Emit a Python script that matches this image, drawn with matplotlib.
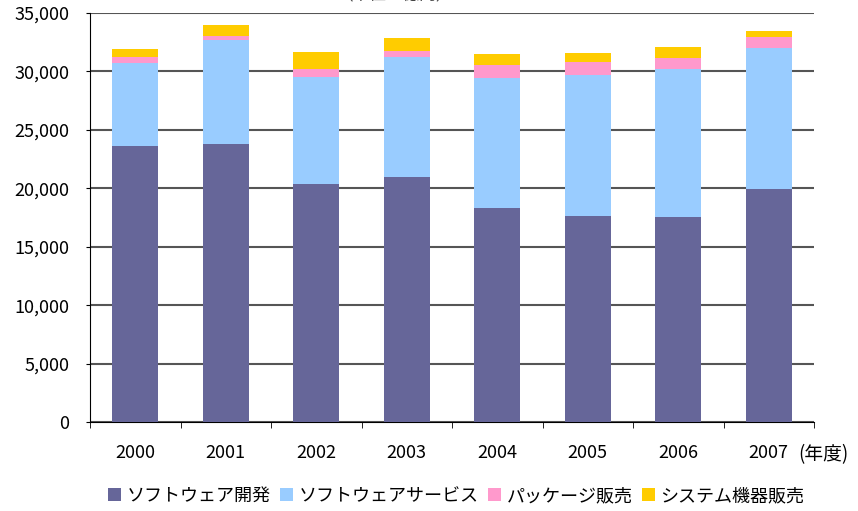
import matplotlib
matplotlib.use("Agg")
import matplotlib.pyplot as plt
from matplotlib.patches import Patch
from matplotlib.ticker import FuncFormatter, MultipleLocator
import numpy as np

plt.rcParams['font.family'] = ['Noto Sans CJK JP', 'DejaVu Sans']

# data
years = ['2000', '2001', '2002', '2003', '2004', '2005', '2006', '2007']
series_names = ['ソフトウェア開発', 'ソフトウェアサービス', 'パッケージ販売', 'システム機器販売']
software_dev = [23650, 23790, 20370, 20970, 18310, 17630, 17540, 19940]
software_service = [7030, 8930, 9150, 10260, 11150, 12060, 12670, 12090]
package_sales = [520, 340, 690, 520, 1090, 1140, 970, 920]
system_sales = [720, 910, 1450, 1110, 940, 750, 910, 510]
colors = ['#666699', '#99CCFF', '#FF99CC', '#FFCC00']


def plot_the_chart():
    fig = plt.figure(figsize=(8.58, 5.11), dpi=100)
    ax = fig.add_axes([90 / 858, 89 / 511, 724 / 858, 409 / 511])

    x = np.arange(len(years))
    bottom = np.zeros(len(years))
    for vals, col in zip([software_dev, software_service, package_sales, system_sales], colors):
        ax.bar(x, vals, width=0.51, bottom=bottom, color=col, zorder=3)
        bottom += np.array(vals)

    ax.set_xlim(-0.5, len(years) - 0.5)
    ax.set_ylim(0, 35000)
    ax.yaxis.set_major_locator(MultipleLocator(5000))
    ax.yaxis.set_major_formatter(FuncFormatter(lambda v, p: f"{v:,.0f}"))
    ax.grid(axis='y', color='#555555', linewidth=1.5, zorder=0)

    ax.set_xticks(x)
    ax.set_xticklabels(years)
    ax.set_xticks(np.arange(len(years) + 1) - 0.5, minor=True)
    ax.tick_params(axis='x', which='major', length=0, pad=16, labelsize=13)
    ax.tick_params(axis='x', which='minor', length=4, direction='out')
    ax.tick_params(axis='y', length=3, pad=12, labelsize=13)

    for s in ['top', 'right']:
        ax.spines[s].set_visible(False)
    ax.spines['left'].set_color('black')
    ax.spines['bottom'].set_color('black')

    # unit label on the last year
    ax.annotate('(年度)', xy=(len(years) - 1, 0), xycoords='data',
                xytext=(21, -16), textcoords='offset points',
                ha='left', va='top', fontsize=13.5, annotation_clip=False)

    # title mostly above the picture, as in the reference
    fig.text(395 / 858, 1 + 1 / 511, '（単位：億円）', ha='center', va='baseline',
             fontsize=12, color='#444444')

    handles = [Patch(facecolor=c, edgecolor='none') for c in colors]
    fig.legend(handles, series_names, loc='center', ncol=4,
               bbox_to_anchor=(456 / 858, 1 - 496 / 511), frameon=False,
               fontsize=13, handlelength=0.75, handleheight=0.75,
               handletextpad=0.3, columnspacing=0.5)

    fig.savefig('out.png', dpi=100)


if __name__ == "__main__":
    plot_the_chart()
